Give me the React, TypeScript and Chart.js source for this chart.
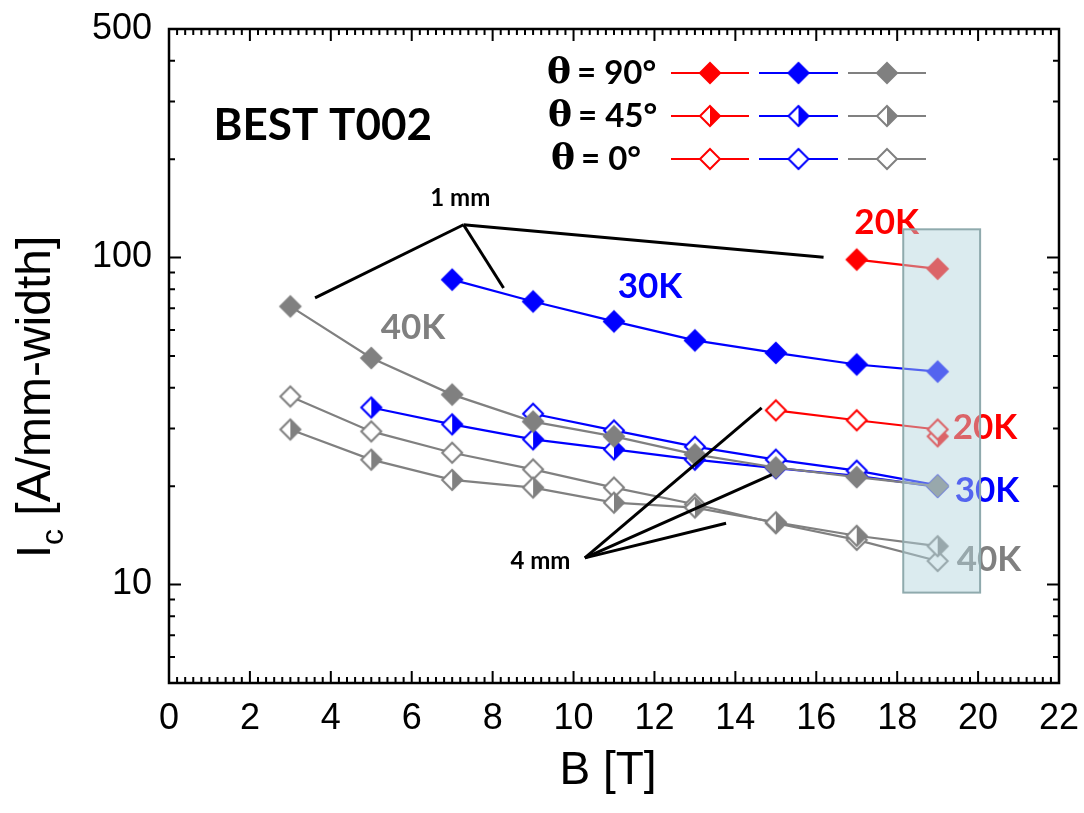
import React, { useEffect, useRef } from 'react';
import { Chart, registerables } from 'chart.js';

Chart.register(...registerables);

// ---------- data ----------
const red90X = [17, 19];
const red90Y = [98.6, 92.4];
const red45X = [19];
const red45Y = [28.4];
const red0X = [15, 17, 19];
const red0Y = [34.1, 31.8, 29.8];

const blue90X = [7, 9, 11, 13, 15, 17, 19];
const blue90Y = [85.6, 73.4, 63.8, 55.8, 51.1, 47.1, 44.8];
const blue45X = [5, 7, 9, 11, 13, 15, 17, 19];
const blue45Y = [34.8, 30.9, 27.8, 25.9, 24.1, 22.7, 21.5, 19.9];
const blue0X = [9, 11, 13, 15, 17, 19];
const blue0Y = [33.3, 29.6, 26.4, 24.1, 22.3, 20.1];

const grayX = [3, 5, 7, 9, 11, 13, 15, 17, 19];
const gray90Y = [70.9, 49.3, 38.1, 31.5, 28.4, 25.0, 22.8, 21.3, 20.0];
const gray45Y = [29.8, 24.1, 20.9, 19.8, 17.8, 17.2, 15.5, 14.1, 13.1];
const gray0Y = [37.6, 29.4, 25.3, 22.5, 19.8, 17.6, 15.4, 13.7, 11.8];

const xTickValues = [0, 2, 4, 6, 8, 10, 12, 14, 16, 18, 20, 22];
const yTickValues = [10, 100, 500];

// annotation contents (positions in data units)
const tempLabels = [
  { text: '20K', x: 17.74, y: 128, color: '#ff0000' },
  { text: '30K', x: 11.89, y: 81.7, color: '#0000ff' },
  { text: '40K', x: 6.03, y: 61.1, color: '#808080' },
  { text: '20K', x: 20.17, y: 30.1, color: '#ff0000' },
  { text: '30K', x: 20.22, y: 19.4, color: '#0000ff' },
  { text: '40K', x: 20.27, y: 11.9, color: '#808080' },
];
const oneMmOrigin = { x: 7.28, y: 126 };
const oneMmTargets = [
  { x: 3.61, y: 75.3 },
  { x: 8.27, y: 80.7 },
  { x: 16.18, y: 100.2 },
];
const fourMmOrigin = { x: 10.28, y: 12.07 };
const fourMmTargets = [
  { x: 14.65, y: 34.7 },
  { x: 14.9, y: 21.7 },
  { x: 13.77, y: 15.4 },
];
const highlightBox = { x0: 18.15, x1: 20.05, y0: 9.45, y1: 122 };

const RED = '#ff0000';
const BLUE = '#0000ff';
const GRAY = '#808080';

type Kind = 'filled' | 'half' | 'open';

function diamond(color: string, kind: Kind): HTMLCanvasElement {
  const S = 28;
  const c = document.createElement('canvas');
  c.width = S;
  c.height = S;
  const g = c.getContext('2d')!;
  const m = S / 2;
  const path = (r: number) => {
    g.beginPath();
    g.moveTo(m, m - r);
    g.lineTo(m + r, m);
    g.lineTo(m, m + r);
    g.lineTo(m - r, m);
    g.closePath();
  };
  if (kind === 'filled') {
    path(11.5);
    g.fillStyle = color;
    g.fill();
  } else {
    const r = 10;
    path(r);
    g.fillStyle = '#ffffff';
    g.fill();
    if (kind === 'half') {
      g.beginPath();
      g.moveTo(m, m - r);
      g.lineTo(m + r, m);
      g.lineTo(m, m + r);
      g.closePath();
      g.fillStyle = color;
      g.fill();
    }
    path(r);
    g.lineWidth = 2;
    g.strokeStyle = color;
    g.stroke();
  }
  return c;
}

function pts(xs: number[], ys: number[]) {
  return xs.map((x, i) => ({ x, y: ys[i] }));
}

export default function App() {
  const ref = useRef<HTMLCanvasElement | null>(null);

  useEffect(() => {
    document.body.style.margin = '0';
    const canvas = ref.current!;
    const markers: Record<string, HTMLCanvasElement> = {};
    for (const [n, col] of [['r', RED], ['b', BLUE], ['g', GRAY]] as [string, string][]) {
      for (const k of ['filled', 'half', 'open'] as Kind[]) markers[n + k] = diamond(col, k);
    }

    const ds = (label: string, xs: number[], ys: number[], color: string, m: HTMLCanvasElement) => ({
      label,
      data: pts(xs, ys),
      borderColor: color,
      backgroundColor: color,
      borderWidth: 2.2,
      showLine: true,
      pointStyle: m,
      pointRadius: 6,
      pointHoverRadius: 6,
    });

    const annot = {
      id: 'annot',
      afterDatasetsDraw(chart: any) {
        const ctx: CanvasRenderingContext2D = chart.ctx;
        const xs = chart.scales.x;
        const ys = chart.scales.y;
        const X = (v: number) => xs.getPixelForValue(v);
        const Y = (v: number) => ys.getPixelForValue(v);
        const { left, right, top, bottom } = chart.chartArea;
        ctx.save();

        // pointer lines
        ctx.strokeStyle = '#000';
        ctx.lineWidth = 3;
        ctx.lineCap = 'butt';
        for (const [o, ts] of [[oneMmOrigin, oneMmTargets], [fourMmOrigin, fourMmTargets]] as any) {
          for (const t of ts) {
            ctx.beginPath();
            ctx.moveTo(X(o.x), Y(o.y));
            ctx.lineTo(X(t.x), Y(t.y));
            ctx.stroke();
          }
        }

        ctx.textAlign = 'center';
        ctx.textBaseline = 'middle';
        ctx.fillStyle = '#000';
        ctx.font = 'bold 44px Lato';
        ctx.fillText('BEST T002', X(3.8), Y(253));
        ctx.font = 'bold 24px Lato';
        ctx.fillText('1 mm', X(7.2), Y(152));
        ctx.fillText('4 mm', X(9.18), Y(11.76));

        ctx.font = 'bold 35px Lato';
        for (const l of tempLabels) {
          ctx.fillStyle = l.color;
          ctx.fillText(l.text, X(l.x), Y(l.y));
        }

        // legend
        const rows = [
          { deg: '90°', kind: 'filled' as Kind, y: 73, x: 547 },
          { deg: '45°', kind: 'half' as Kind, y: 116, x: 548 },
          { deg: '0°', kind: 'open' as Kind, y: 159, x: 551 },
        ];
        const segs = [
          { x0: 671, x1: 749, c: RED, n: 'r' },
          { x0: 759, x1: 838, c: BLUE, n: 'b' },
          { x0: 848, x1: 926, c: GRAY, n: 'g' },
        ];
        ctx.textAlign = 'left';
        ctx.textBaseline = 'middle';
        for (const r of rows) {
          ctx.fillStyle = '#000';
          ctx.font = 'bold 36px "DejaVu Serif"';
          ctx.fillText('θ', r.x, r.y + 1);
          const w = ctx.measureText('θ').width;
          ctx.font = 'bold 33px Lato';
          ctx.fillText(' = ' + r.deg, r.x + w - 2, r.y);
          for (const s of segs) {
            ctx.strokeStyle = s.c;
            ctx.lineWidth = 2;
            ctx.beginPath();
            ctx.moveTo(s.x0, r.y);
            ctx.lineTo(s.x1, r.y);
            ctx.stroke();
            const m = markers[s.n + r.kind];
            ctx.drawImage(m, (s.x0 + s.x1) / 2 - m.width / 2, r.y - m.height / 2);
          }
        }

        // highlight box
        const bx0 = X(highlightBox.x0);
        const bx1 = X(highlightBox.x1);
        const by0 = Y(highlightBox.y1);
        const by1 = Y(highlightBox.y0);
        ctx.fillStyle = 'rgba(178,213,221,0.47)';
        ctx.fillRect(bx0, by0, bx1 - bx0, by1 - by0);
        ctx.strokeStyle = '#8faaad';
        ctx.lineWidth = 2;
        ctx.strokeRect(bx0, by0, bx1 - bx0, by1 - by0);

        // frame and inward ticks
        ctx.strokeStyle = '#000';
        ctx.lineWidth = 2;
        ctx.beginPath();
        for (let i = 0; i <= 110; i++) {
          const v = i * 0.2;
          const px = X(v);
          const L = i % 10 === 0 ? 12 : 6;
          ctx.moveTo(px, bottom);
          ctx.lineTo(px, bottom - L);
          ctx.moveTo(px, top);
          ctx.lineTo(px, top + L);
        }
        for (const d of [1, 10, 100]) {
          for (let k = 1; k <= 9; k++) {
            const v = k * d;
            if (v < 5 || v > 500) continue;
            const py = Y(v);
            const L = k === 1 ? 12 : 6;
            ctx.moveTo(left, py);
            ctx.lineTo(left + L, py);
            ctx.moveTo(right, py);
            ctx.lineTo(right - L, py);
          }
        }
        ctx.stroke();
        ctx.lineWidth = 2.5;
        ctx.strokeRect(left, top, right - left, bottom - top);

        // axis titles
        ctx.fillStyle = '#000';
        ctx.textBaseline = 'alphabetic';
        ctx.textAlign = 'center';
        ctx.font = '46px "Liberation Sans"';
        ctx.fillText('B [T]', (left + right) / 2 - 6, 784);

        ctx.save();
        ctx.translate(50, (top + bottom) / 2 + 41);
        ctx.rotate(-Math.PI / 2);
        ctx.textAlign = 'left';
        const big = '48px "Liberation Sans"';
        const small = '32px "Liberation Sans"';
        ctx.font = big;
        const wI = ctx.measureText('I').width;
        const rest = ' [A/mm-width]';
        const wR = ctx.measureText(rest).width;
        ctx.font = small;
        const wc = ctx.measureText('c').width;
        const total = wI + wc + wR;
        let sx = -total / 2;
        ctx.font = big;
        ctx.fillText('I', sx, 0);
        sx += wI;
        ctx.font = small;
        ctx.fillText('c', sx, 13);
        sx += wc;
        ctx.font = big;
        ctx.fillText(rest, sx, 0);
        ctx.restore();

        ctx.restore();
      },
    };

    const chart = new Chart(canvas, {
      type: 'scatter',
      data: {
        datasets: [
          ds('40K 90°', grayX, gray90Y, GRAY, markers.gfilled),
          ds('30K 90°', blue90X, blue90Y, BLUE, markers.bfilled),
          ds('20K 90°', red90X, red90Y, RED, markers.rfilled),
          ds('30K 0°', blue0X, blue0Y, BLUE, markers.bopen),
          ds('30K 45°', blue45X, blue45Y, BLUE, markers.bhalf),
          ds('20K 0°', red0X, red0Y, RED, markers.ropen),
          ds('20K 45°', red45X, red45Y, RED, markers.rhalf),
          ds('40K 45°', grayX, gray45Y, GRAY, markers.ghalf),
          ds('40K 0°', grayX, gray0Y, GRAY, markers.gopen),
        ] as any,
      },
      options: {
        responsive: false,
        animation: false,
        events: [],
        layout: { padding: { left: 0, top: 29, right: 25, bottom: 0 } },
        plugins: { legend: { display: false }, tooltip: { enabled: false }, title: { display: false } },
        scales: {
          x: {
            type: 'linear',
            min: 0,
            max: 22,
            afterBuildTicks: (s: any) => {
              s.ticks = xTickValues.map((v) => ({ value: v }));
            },
            afterFit: (s: any) => {
              s.height = 130;
              s.paddingLeft = 0;
              s.paddingRight = 0;
            },
            grid: { display: false, drawTicks: false },
            border: { display: false },
            ticks: {
              color: '#000',
              font: { family: '"Liberation Sans"', size: 36 },
              padding: 14,
              maxRotation: 0,
              autoSkip: false,
            },
          },
          y: {
            type: 'logarithmic',
            min: 5,
            max: 500,
            afterBuildTicks: (s: any) => {
              s.ticks = yTickValues.map((v) => ({ value: v }));
            },
            afterFit: (s: any) => {
              s.width = 169;
              s.paddingTop = 0;
              s.paddingBottom = 0;
            },
            grid: { display: false, drawTicks: false },
            border: { display: false },
            ticks: {
              color: '#000',
              font: { family: '"Liberation Sans"', size: 36 },
              padding: 17,
              autoSkip: false,
              callback: (v: any) => String(v),
            },
          },
        },
      },
      plugins: [annot],
    });

    return () => chart.destroy();
  }, []);

  return (
    <div style={{ width: 1084, height: 813, position: 'relative', background: '#fff' }}>
      <canvas ref={ref} width={1084} height={813} />
    </div>
  );
}
